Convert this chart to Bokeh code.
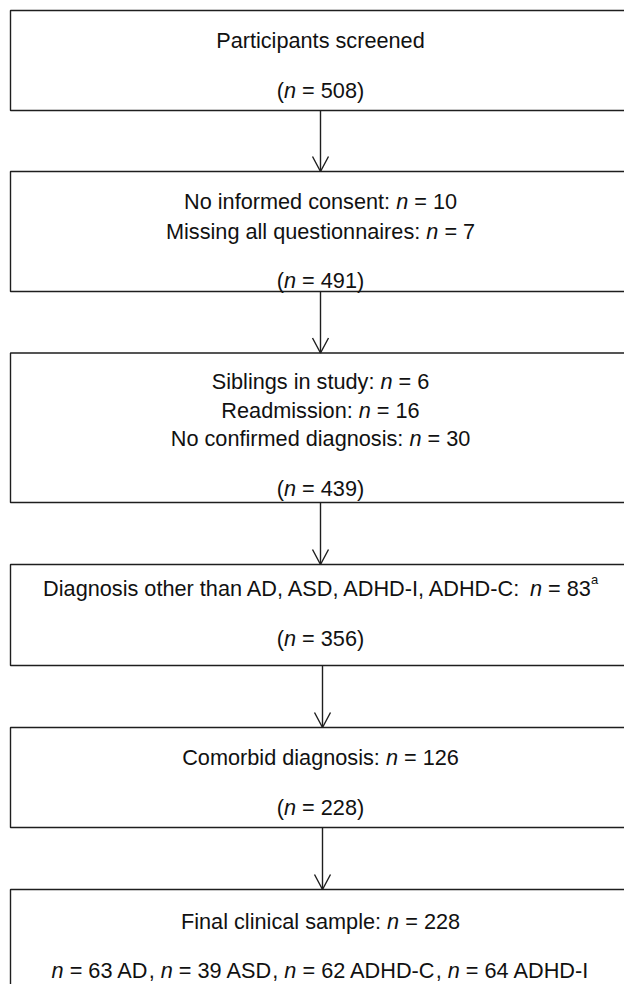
from bokeh.plotting import figure
from bokeh.models import Range1d, ColumnDataSource
from bokeh.core.properties import value
from bokeh.embed import file_html
from bokeh.resources import INLINE

# ---------------- data ----------------
stage_remaining = [508, 491, 439, 356, 228]
exclusion_reasons = [
    [],
    ["No informed consent", "Missing all questionnaires"],
    ["Siblings in study", "Readmission", "No confirmed diagnosis"],
    ["Diagnosis other than AD, ASD, ADHD-I, ADHD-C"],
    ["Comorbid diagnosis"],
]
exclusion_counts = [[], [10, 7], [6, 16, 30], [83], [126]]
exclusion_notes = [[], ["", ""], ["", "", ""], ["a"], [""]]
first_box_title = "Participants screened"
final_title = "Final clinical sample"
final_total = 228
final_groups = ["AD", "ASD", "ADHD-C", "ADHD-I"]
final_counts = [63, 39, 62, 64]

# ---------------- layout (page pixels) ----------------
box_left, box_right = 10, 632
box_tops = [10, 171, 352.5, 564, 727, 889]
box_bottoms = [110, 291, 502, 665, 827, 1010]
arrow_x = [320, 320, 320, 322, 322]
text_cx = 320
baselines = [
    [40, 90],
    [201, 231, 280],
    [381, 409.5, 438, 488],
    [588, 638],
    [757, 807],
    [921, 970],
]
FS = 21.7
SUP_FS = 13
LINE_COLOR = "#1e1e1e"
LW = 1.4

# Arial / Liberation Sans advance widths (per 1000 em)
W = {" ": 278, "(": 333, ")": 333, ",": 278, "-": 333, ".": 278, ":": 278, "=": 584}
for d in "0123456789":
    W[d] = 556
W.update(dict(A=667, B=667, C=722, D=722, E=667, F=611, G=778, H=722, I=278, J=500,
              K=667, L=556, M=833, N=722, O=778, P=667, Q=778, R=722, S=667, T=611,
              U=722, V=667, W=944, X=667, Y=667, Z=611))
W.update(dict(a=556, b=556, c=500, d=556, e=556, f=278, g=556, h=556, i=222, j=222,
              k=500, l=222, m=833, n=556, o=556, p=556, q=556, r=333, s=500, t=278,
              u=556, v=500, w=722, x=500, y=500, z=500))


def tw(s, fs):
    return sum(W.get(ch, 556) for ch in s) * fs / 1000.0


# build lines of segments: (text, style) style in {"n","i","sup"}
boxes = []
boxes.append([[(first_box_title, "n")], [("(", "n"), ("n", "i"), (" = %d)" % stage_remaining[0], "n")]])
for k in range(1, 5):
    lines = []
    for reason, cnt, note in zip(exclusion_reasons[k], exclusion_counts[k], exclusion_notes[k]):
        seg = [(reason + ": ", "n"), ("n", "i"), (" = %d" % cnt, "n")]
        if note:
            seg.append((note, "sup"))
        lines.append(seg)
    lines.append([("(", "n"), ("n", "i"), (" = %d)" % stage_remaining[k], "n")])
    boxes.append(lines)
last = []
for g, c in zip(final_groups, final_counts):
    if last:
        last.append((", ", "n"))
    last += [("n", "i"), (" = %d %s" % (c, g), "n")]
boxes.append([[(final_title + ": ", "n"), ("n", "i"), (" = %d" % final_total, "n")], last])


def empty():
    return dict(x=[], y=[], text=[], align=[])


normal, italic, sup = empty(), empty(), empty()
for lines, bls in zip(boxes, baselines):
    for seg, by in zip(lines, bls):
        sizes = [SUP_FS if st == "sup" else FS for t, st in seg]
        widths = [tw(t, fs) for (t, st), fs in zip(seg, sizes)]
        x = text_cx - sum(widths) / 2.0
        for j, ((t, st), w, fs) in enumerate(zip(seg, widths, sizes)):
            s1 = t.lstrip(" ")
            lead = tw(t[: len(t) - len(s1)], fs)
            s2 = s1.rstrip(" ")
            trail = tw(s1[len(s2):], fs)
            if st == "n":
                d, yy = normal, by
            elif st == "i":
                d, yy = italic, by
            else:
                d, yy = sup, by - 9
            followed_by_italic = j + 1 < len(seg) and seg[j + 1][1] == "i"
            if s2:
                if followed_by_italic and st == "n":
                    d["x"].append(x + w - trail)
                    d["align"].append("right")
                else:
                    d["x"].append(x + lead)
                    d["align"].append("left")
                d["y"].append(yy)
                d["text"].append(s2)
            x += w

# ---------------- figure ----------------
p = figure(width=624, height=984, x_range=Range1d(0, 624), y_range=Range1d(984, 0),
           output_backend="svg", toolbar_location=None, min_border=0)
p.axis.visible = False
p.xgrid.visible = False
p.ygrid.visible = False
p.outline_line_color = None
p.background_fill_color = "white"
p.border_fill_color = "white"

p.quad(left=[box_left] * len(box_tops), right=[box_right] * len(box_tops),
       top=box_tops, bottom=box_bottoms, fill_alpha=0,
       line_color=LINE_COLOR, line_width=LW)

# arrows
shaft_x0, shaft_y0, shaft_x1, shaft_y1 = [], [], [], []
head_xs, head_ys = [], []
for i, ax in enumerate(arrow_x):
    y0 = box_bottoms[i]
    y1 = box_tops[i + 1]
    shaft_x0.append(ax); shaft_y0.append(y0); shaft_x1.append(ax); shaft_y1.append(y1)
    head_xs.append([ax - 8, ax, ax + 8])
    head_ys.append([y1 - 15, y1, y1 - 15])
p.segment(x0=shaft_x0, y0=shaft_y0, x1=shaft_x1, y1=shaft_y1,
          line_color=LINE_COLOR, line_width=LW)
p.multi_line(xs=head_xs, ys=head_ys, line_color=LINE_COLOR, line_width=LW)

common = dict(text_align="align", text_baseline="alphabetic", text_color="#111111",
              text_font=value("Liberation Sans"))
p.text(x="x", y="y", text="text", source=ColumnDataSource(normal),
       text_font_size="%.1fpx" % FS, **common)
p.text(x="x", y="y", text="text", source=ColumnDataSource(italic),
       text_font_size="%.1fpx" % FS, text_font_style="italic", **common)
p.text(x="x", y="y", text="text", source=ColumnDataSource(sup),
       text_font_size="%dpx" % SUP_FS, **common)

open("out.html", "w").write(file_html(p, INLINE))
